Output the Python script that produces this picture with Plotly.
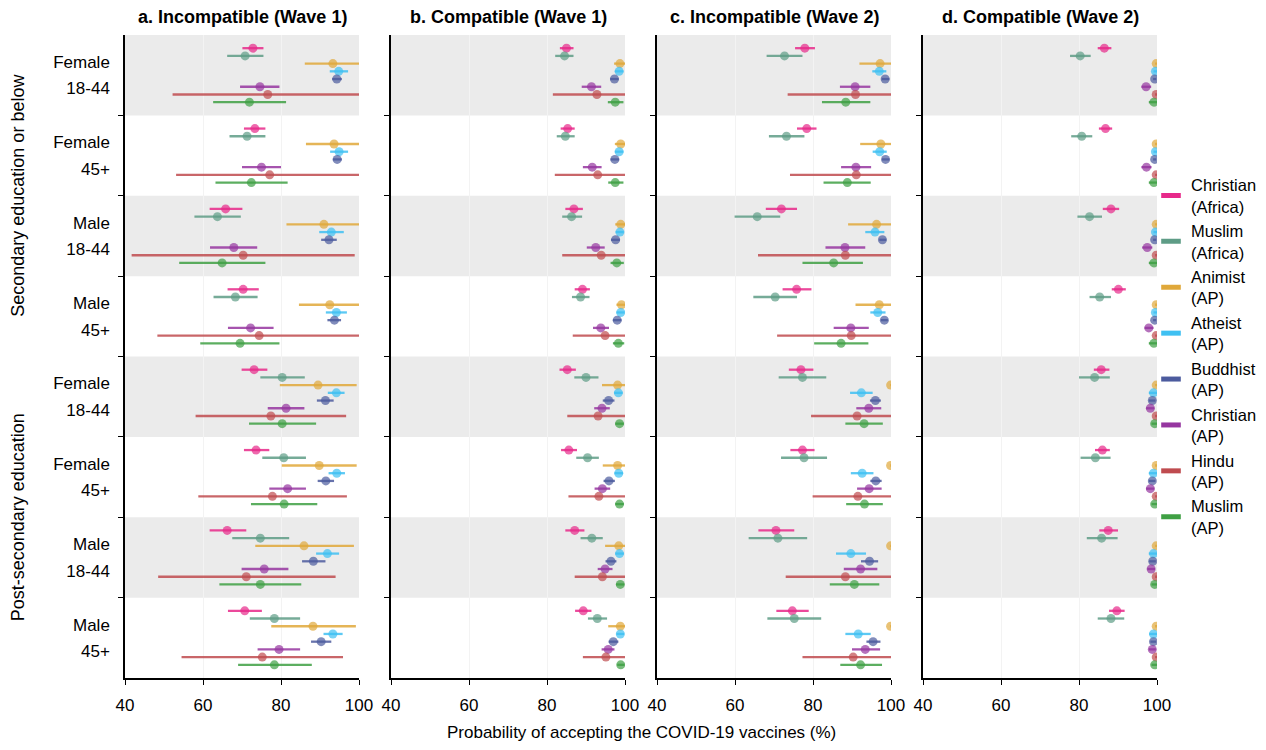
import plotly.graph_objects as go
from plotly.subplots import make_subplots

# ---------------- data ----------------
row_sex = ["Female", "Female", "Male", "Male", "Female", "Female", "Male", "Male"]
row_age = ["18-44", "45+", "18-44", "45+", "18-44", "45+", "18-44", "45+"]
education_groups = ["Secondary education or below", "Post-secondary education"]
panel_titles = ["a. Incompatible (Wave 1)", "b. Compatible (Wave 1)",
                "c. Incompatible (Wave 2)", "d. Compatible (Wave 2)"]
series_names = ["Christian<br>(Africa)", "Muslim<br>(Africa)", "Animist<br>(AP)", "Atheist<br>(AP)",
                "Buddhist<br>(AP)", "Christian<br>(AP)", "Hindu<br>(AP)", "Muslim<br>(AP)"]
series_colors = ["#e7298a", "#5e9c86", "#e0a83a", "#3fc0f2",
                 "#4c5b9e", "#9636a0", "#bf4b4f", "#3fa044"]
x_ticks = [40, 60, 80, 100]
x_title = "Probability of accepting the COVID-19 vaccines (%)"

# (estimate, lower, upper) per row, top to bottom
a_christian_africa = [(72.8, 70.1, 75.5), (73.3, 70.5, 76.0), (65.8, 61.7, 70.1), (70.3, 66.3, 74.3),
                      (73.1, 69.9, 76.5), (73.6, 70.5, 77.0), (66.2, 61.7, 71.1), (70.7, 66.4, 75.1)]
a_muslim_africa = [(70.8, 66.2, 75.5), (71.3, 66.8, 76.0), (63.7, 57.8, 69.7), (68.3, 62.7, 74.0),
                   (80.3, 74.7, 86.1), (80.7, 75.2, 86.4), (74.7, 67.5, 82.1), (78.3, 72.0, 84.9)]
a_animist = [(93.3, 86.1, 100), (93.6, 86.4, 100), (91.0, 81.4, 100), (92.5, 84.6, 100),
             (89.5, 79.7, 99.4), (89.8, 80.2, 99.4), (85.9, 73.4, 98.7), (88.2, 77.5, 99.2)]
a_atheist = [(94.8, 92.5, 97.2), (94.9, 92.6, 97.2), (92.9, 89.8, 96.1), (94.2, 91.5, 96.9),
             (94.2, 92.0, 96.3), (94.3, 92.2, 96.4), (91.9, 89.0, 94.9), (93.3, 90.9, 95.8)]
a_buddhist = [(94.3, 93.1, 95.6), (94.4, 93.3, 95.6), (92.3, 90.3, 94.3), (93.7, 91.9, 95.4),
              (91.4, 89.2, 93.5), (91.5, 89.4, 93.6), (88.3, 85.4, 91.4), (90.3, 87.7, 92.9)]
a_christian_ap = [(74.6, 69.5, 79.6), (75.0, 70.0, 80.0), (67.9, 61.8, 73.9), (72.2, 66.4, 78.1),
                  (81.3, 76.6, 86.0), (81.7, 77.0, 86.4), (75.7, 69.9, 81.9), (79.5, 74.0, 84.9)]
a_hindu = [(76.6, 52.2, 100), (77.1, 53.1, 100), (70.3, 41.7, 98.9), (74.4, 48.3, 100),
           (77.4, 58.1, 96.7), (77.8, 58.8, 96.9), (71.1, 48.5, 94.0), (75.2, 54.5, 95.9)]
a_muslim_ap = [(71.9, 62.6, 81.3), (72.4, 63.2, 81.7), (64.9, 53.9, 76.0), (69.5, 59.3, 79.6),
               (80.3, 71.8, 89.0), (80.8, 72.3, 89.3), (74.7, 64.2, 85.2), (78.3, 69.0, 87.9)]

b_christian_africa = [(85.0, 83.3, 86.8), (85.3, 83.5, 87.1), (86.9, 84.7, 89.2), (89.1, 87.1, 91.0),
                      (85.2, 83.2, 87.4), (85.6, 83.6, 87.7), (87.1, 84.7, 89.6), (89.3, 87.2, 91.4)]
b_muslim_africa = [(84.5, 82.1, 86.8), (84.7, 82.5, 87.1), (86.3, 83.9, 89.0), (88.6, 86.4, 90.9),
                   (90.0, 87.0, 93.2), (90.4, 87.5, 93.3), (91.5, 88.6, 94.3), (92.9, 90.5, 95.4)]
b_animist = [(98.7, 97.2, 100), (98.9, 97.4, 100), (98.9, 97.5, 100), (99.1, 97.8, 100),
             (98.1, 94.1, 100), (98.1, 94.3, 100), (98.4, 94.9, 100), (98.8, 95.7, 100)]
b_atheist = [(98.5, 97.4, 99.6), (98.5, 97.4, 99.6), (98.7, 97.6, 99.7), (98.9, 97.8, 99.9),
             (98.3, 97.2, 99.4), (98.4, 97.3, 99.5), (98.6, 97.5, 99.7), (98.8, 97.8, 99.8)]
b_buddhist = [(97.3, 96.2, 98.4), (97.4, 96.3, 98.5), (97.6, 96.4, 98.7), (98.0, 96.9, 99.1),
              (95.8, 94.3, 97.3), (95.9, 94.5, 97.4), (96.4, 95.0, 97.8), (97.0, 95.8, 98.3)]
b_christian_ap = [(91.4, 88.9, 93.9), (91.6, 89.2, 94.0), (92.5, 90.2, 94.8), (93.8, 91.8, 95.9),
                  (94.1, 92.1, 96.1), (94.2, 92.2, 96.2), (94.9, 93.0, 96.8), (95.7, 94.0, 97.3)]
b_hindu = [(92.8, 81.5, 100), (93.0, 82.0, 100), (93.9, 83.9, 100), (94.9, 86.6, 100),
           (93.1, 85.2, 100), (93.3, 85.5, 100), (94.2, 87.1, 100), (95.1, 89.2, 100)]
b_muslim_ap = [(97.5, 95.6, 99.6), (97.5, 95.7, 99.6), (97.9, 96.3, 99.7), (98.3, 96.9, 99.8),
               (98.6, 97.5, 99.7), (98.6, 97.5, 99.7), (98.8, 97.7, 99.8), (98.9, 98.0, 99.9)]

c_christian_africa = [(77.9, 75.4, 80.5), (78.4, 75.9, 80.9), (71.9, 67.9, 75.9), (75.8, 72.2, 79.6),
                      (76.9, 73.8, 80.1), (77.3, 74.2, 80.4), (70.5, 66.0, 75.2), (74.7, 70.6, 78.9)]
c_muslim_africa = [(72.7, 68.1, 77.3), (73.2, 68.7, 77.8), (65.7, 59.9, 71.6), (70.3, 64.7, 75.9),
                   (77.3, 71.2, 83.4), (77.7, 71.8, 83.6), (71.0, 63.5, 78.5), (75.2, 68.3, 82.1)]
c_animist = [(97.2, 91.9, 100), (97.4, 92.1, 100), (96.3, 89.0, 100), (97.0, 90.9, 100),
             (99.9, 99.8, 100), (99.9, 99.8, 100), (99.9, 99.8, 100), (99.9, 99.8, 100)]
c_atheist = [(97.0, 95.2, 98.8), (97.1, 95.3, 98.9), (95.9, 93.4, 98.3), (96.6, 94.7, 98.6),
             (92.4, 89.5, 95.3), (92.6, 89.7, 95.5), (89.7, 85.9, 93.6), (91.6, 88.3, 94.8)]
c_buddhist = [(98.5, 97.6, 99.6), (98.6, 97.7, 99.6), (97.8, 97.0, 98.8), (98.3, 97.4, 99.2),
              (96.0, 94.6, 97.4), (96.1, 94.7, 97.6), (94.5, 92.3, 96.7), (95.4, 93.7, 97.3)]
c_christian_ap = [(90.8, 86.9, 94.7), (91.0, 87.2, 94.9), (88.2, 83.2, 93.4), (89.7, 85.3, 94.3),
                  (94.3, 91.1, 97.5), (94.4, 91.3, 97.6), (92.2, 87.9, 96.5), (93.4, 90.0, 97.2)]
c_hindu = [(90.9, 73.5, 100), (91.1, 74.1, 100), (88.3, 65.9, 100), (89.8, 70.8, 100),
           (91.3, 79.5, 100), (91.5, 79.9, 100), (88.3, 73.0, 100), (90.3, 77.3, 100)]
c_muslim_ap = [(88.4, 82.3, 94.7), (88.8, 82.7, 94.8), (85.3, 77.3, 92.8), (87.2, 80.3, 94.2),
               (93.1, 88.3, 97.9), (93.2, 88.5, 97.9), (90.6, 84.3, 97.0), (92.2, 87.0, 97.7)]

d_christian_africa = [(86.5, 84.8, 88.3), (86.8, 85.1, 88.5), (88.2, 86.1, 90.3), (90.1, 88.4, 92.0),
                      (85.7, 83.8, 87.8), (86.0, 84.1, 87.9), (87.5, 85.2, 90.0), (89.7, 87.7, 91.7)]
d_muslim_africa = [(80.3, 77.7, 83.0), (80.7, 78.0, 83.4), (82.7, 79.6, 85.9), (85.3, 82.7, 88.2),
                   (84.0, 80.0, 87.9), (84.2, 80.4, 88.1), (85.8, 82.0, 89.9), (88.2, 84.8, 91.6)]
d_animist = [(99.8, 99.5, 100), (99.8, 99.5, 100), (99.8, 99.5, 100), (99.8, 99.5, 100),
             (99.8, 99.5, 100), (99.8, 99.5, 100), (99.8, 99.5, 100), (99.8, 99.5, 100)]
d_atheist = [(99.6, 99.1, 100), (99.6, 99.1, 100), (99.6, 99.1, 100), (99.6, 99.1, 100),
             (99.1, 97.9, 100), (99.1, 97.9, 100), (99.1, 97.9, 100), (99.1, 98.0, 100)]
d_buddhist = [(99.4, 99.0, 99.8), (99.4, 99.0, 99.8), (99.4, 99.0, 99.8), (99.4, 99.0, 99.8),
              (98.8, 97.9, 99.6), (98.8, 97.9, 99.6), (98.9, 98.0, 99.7), (99.1, 98.3, 99.8)]
d_christian_ap = [(97.2, 96.0, 98.5), (97.3, 96.0, 98.6), (97.5, 96.2, 98.8), (97.9, 96.8, 99.1),
                  (98.3, 97.2, 99.3), (98.3, 97.2, 99.3), (98.5, 97.5, 99.5), (98.8, 97.9, 99.7)]
d_hindu = [(99.8, 99.5, 100), (99.8, 99.5, 100), (99.8, 99.5, 100), (99.8, 99.5, 100),
           (99.8, 99.5, 100), (99.8, 99.5, 100), (99.8, 99.5, 100), (99.8, 99.5, 100)]
d_muslim_ap = [(99.2, 97.9, 100), (99.2, 97.9, 100), (99.2, 97.9, 100), (99.2, 97.9, 100),
               (99.4, 98.6, 100), (99.4, 98.6, 100), (99.4, 98.6, 100), (99.4, 98.6, 100)]

panels = [
    [a_christian_africa, a_muslim_africa, a_animist, a_atheist, a_buddhist, a_christian_ap, a_hindu, a_muslim_ap],
    [b_christian_africa, b_muslim_africa, b_animist, b_atheist, b_buddhist, b_christian_ap, b_hindu, b_muslim_ap],
    [c_christian_africa, c_muslim_africa, c_animist, c_atheist, c_buddhist, c_christian_ap, c_hindu, c_muslim_ap],
    [d_christian_africa, d_muslim_africa, d_animist, d_atheist, d_buddhist, d_christian_ap, d_hindu, d_muslim_ap],
]

# ---------------- figure ----------------
FONT = "Liberation Sans, Arial, sans-serif"
# the page body has an 8 px margin, so the figure is 16 px smaller than the window
W, H = 1250, 734
ML, MR, MT, MB = 117, 101, 27, 64
PW = W - ML - MR
PH = H - MT - MB

n_rows = len(row_sex)
n_series = len(series_names)
step = 0.096

fig = make_subplots(rows=1, cols=4, horizontal_spacing=32 / PW)


def rgba(hex_color, a):
    h = hex_color.lstrip("#")
    r, g, b = int(h[0:2], 16), int(h[2:4], 16), int(h[4:6], 16)
    return f"rgba({r},{g},{b},{a})"


for p, panel in enumerate(panels):
    for i, series in enumerate(panel):
        est = [v[0] for v in series]
        lo = [v[1] for v in series]
        hi = [v[2] for v in series]
        ys = [r + (i - (n_series - 1) / 2) * step for r in range(n_rows)]
        fig.add_trace(go.Scatter(
            x=est, y=ys, mode="markers",
            marker=dict(color=rgba(series_colors[i], 0.7), size=9, line=dict(width=0)),
            error_x=dict(type="data", symmetric=False,
                         array=[h - e for h, e in zip(hi, est)],
                         arrayminus=[e - l for e, l in zip(est, lo)],
                         color=rgba(series_colors[i], 0.85), thickness=2.3, width=0),
            showlegend=False, cliponaxis=True, hoverinfo="skip"),
            row=1, col=p + 1)

# legend-only entries
for i, name in enumerate(series_names):
    fig.add_trace(go.Scatter(
        x=[None], y=[None], mode="markers", name=name,
        marker=dict(symbol="line-ew", size=14, color=series_colors[i],
                    line=dict(color=series_colors[i], width=6)),
        showlegend=True), row=1, col=1)

# shaded bands
for p in range(4):
    xref = "x domain" if p == 0 else f"x{p + 1} domain"
    yref = "y" if p == 0 else f"y{p + 1}"
    for r in range(0, n_rows, 2):
        fig.add_shape(type="rect", xref=xref, yref=yref, x0=0, x1=1, y0=r - 0.5, y1=r + 0.5,
                      fillcolor="#ebebeb", line=dict(width=0), layer="below")

tickvals = []
ticktext = []
for r in range(n_rows):
    tickvals += [r - 0.165, r + 0.165]
    ticktext += [row_sex[r], row_age[r]]

for p in range(4):
    fig.update_xaxes(range=[40, 100], tickvals=x_ticks, ticks="outside", ticklen=5,
                     tickcolor="black", tickwidth=1.3, ticklabelstandoff=6,
                     showline=True, linecolor="black", linewidth=1.5,
                     showgrid=True, gridcolor="#f3f3f3", gridwidth=1, zeroline=False,
                     tickfont=dict(size=17, color="black", family=FONT),
                     row=1, col=p + 1)
    fig.update_yaxes(range=[n_rows - 0.5, -0.5], tickvals=tickvals,
                     ticktext=ticktext if p == 0 else [""] * len(tickvals),
                     ticks="", showline=True, linecolor="black", linewidth=1.5,
                     showgrid=False, zeroline=False, ticklabelstandoff=10,
                     minor=dict(tickmode="array", tickvals=[r + 0.5 for r in range(n_rows - 1)],
                                ticks="outside", ticklen=5, tickcolor="black", tickwidth=1.3,
                                showgrid=False),
                     tickfont=dict(size=17, color="black", family=FONT),
                     row=1, col=p + 1)

annotations = []
for p in range(4):
    xa = fig.layout["xaxis" if p == 0 else f"xaxis{p + 1}"]
    d0, d1 = xa.domain
    annotations.append(dict(text=f"<b>{panel_titles[p]}</b>", x=(d0 + d1) / 2, y=1, xref="paper", yref="paper",
                            xanchor="center", yanchor="bottom", yshift=6, showarrow=False,
                            font=dict(size=18, color="black", family=FONT)))

annotations.append(dict(text=education_groups[0], x=-107 / PW, y=0.75, xref="paper", yref="paper",
                        xanchor="center", yanchor="middle", textangle=-90, showarrow=False,
                        font=dict(size=18, color="black", family=FONT)))
annotations.append(dict(text=education_groups[1], x=-107 / PW, y=0.25, xref="paper", yref="paper",
                        xanchor="center", yanchor="middle", textangle=-90, showarrow=False,
                        font=dict(size=18, color="black", family=FONT)))
annotations.append(dict(text=x_title, x=0.5, y=0, xref="paper", yref="paper",
                        xanchor="center", yanchor="middle", yshift=-54, showarrow=False,
                        font=dict(size=17, color="black", family=FONT)))

fig.update_layout(
    width=W, height=H,
    margin=dict(l=ML, r=MR, t=MT, b=MB, autoexpand=False),
    paper_bgcolor="white", plot_bgcolor="white",
    font=dict(family=FONT, color="black"),
    annotations=annotations,
    legend=dict(x=(1143 - ML) / PW, xanchor="left", y=0.5, yanchor="middle",
                font=dict(size=16.5, color="black", family=FONT),
                bgcolor="rgba(0,0,0,0)", itemwidth=30),
    showlegend=True,
)

fig.write_html("out.html")
